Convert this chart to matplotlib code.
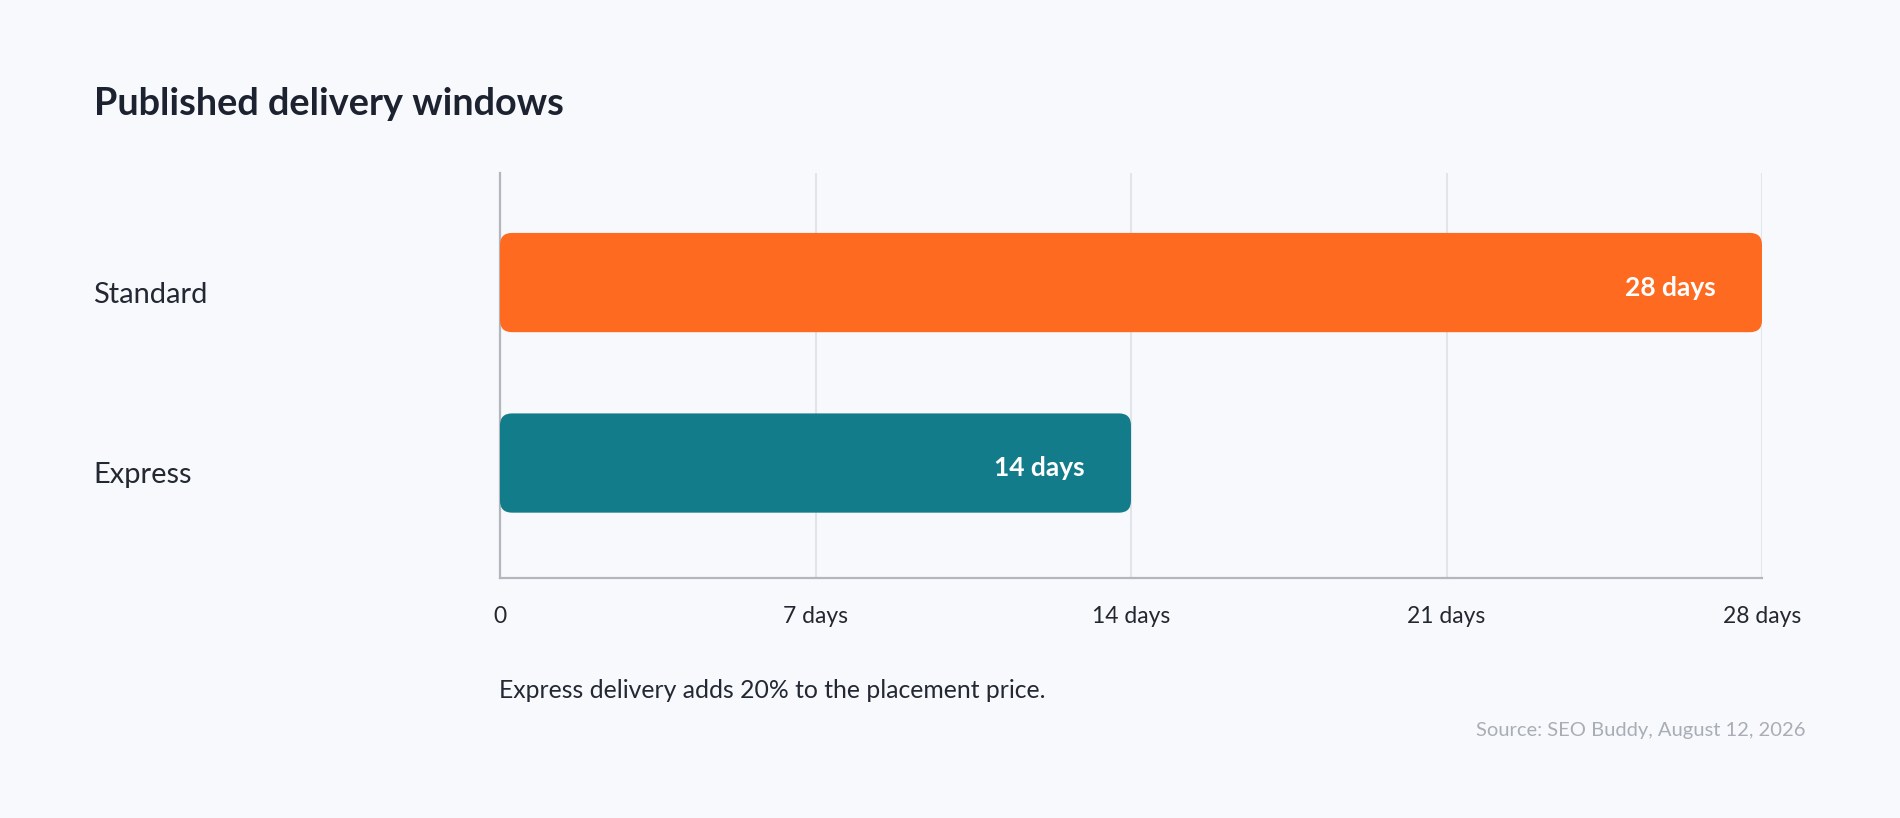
import matplotlib
matplotlib.use("Agg")
import matplotlib.pyplot as plt
from matplotlib.patches import FancyBboxPatch
from matplotlib.transforms import offset_copy, blended_transform_factory

# ---- data ----
categories = ["Standard", "Express"]
values = [28, 14]
value_labels = ["28 days", "14 days"]
bar_colors = ["#FF6A21", "#137C8A"]
xtick_values = [0, 7, 14, 21, 28]
xtick_labels = ["0", "7 days", "14 days", "21 days", "28 days"]
title = "Published delivery windows"
note = "Express delivery adds 20% to the placement price."
source = "Source: SEO Buddy, August 12, 2026"

plt.rcParams['font.family'] = ['Lato', 'DejaVu Sans']

W, H = 1900, 818
BG = "#F7F9FC"
fig = plt.figure(figsize=(W / 100, H / 100), dpi=100, facecolor=BG)
ax = fig.add_axes([500 / W, 240 / H, 1262 / W, 405 / H], facecolor=BG)

ypos = [1, 0]
bar_h = 0.55
ax.set_xlim(0, 28)
ax.set_ylim(-0.637, 1.607)

for y, v, c in zip(ypos, values, bar_colors):
    p = FancyBboxPatch((0, y - bar_h / 2), v, bar_h,
                       boxstyle="round,pad=0,rounding_size=0.266",
                       mutation_aspect=0.25, facecolor=c, edgecolor="none",
                       zorder=3)
    ax.add_patch(p)

# value labels inside bars
for y, v, lab in zip(ypos, values, value_labels):
    tr = offset_copy(ax.transData, fig=fig, x=-46, y=-13, units='dots')
    ax.text(v, y, lab, transform=tr, ha='right', va='baseline',
            fontsize=19, fontweight='bold', color='white', zorder=4)

# category labels
btr = blended_transform_factory(fig.transFigure, ax.transData)
for y, cat in zip(ypos, categories):
    tr = offset_copy(btr, fig=fig, x=0, y=-20, units='dots')
    ax.text(93 / W, y, cat, transform=tr, ha='left', va='baseline',
            fontsize=20.9, color='#232833')
ax.set_yticks([])

# x axis
ax.set_xticks(xtick_values)
ax.set_xticklabels(xtick_labels, fontsize=16.5, color='#23272f')
ax.tick_params(axis='x', length=0, pad=32.2)
for t in ax.get_xticklabels():
    t.set_va('baseline')
ax.grid(axis='x', color='#E1E4E9', linewidth=1.5, zorder=0)
ax.set_axisbelow(True)

for s in ['top', 'right']:
    ax.spines[s].set_visible(False)
for s in ['left', 'bottom']:
    ax.spines[s].set_color('#B3B6BC')
    ax.spines[s].set_linewidth(1.6)
    ax.spines[s].set_zorder(2)

fig.text(94 / W, 1 - 115 / H, title, ha='left', va='baseline',
         fontsize=27.3, fontweight='bold', color='#1D2230')
fig.text(499 / W, 1 - 697.7 / H, note, ha='left', va='baseline',
         fontsize=17.8, color='#232833')
fig.text(1805.7 / W, 1 - 736 / H, source, ha='right', va='baseline',
         fontsize=14.5, color='#A9AEB6')

fig.savefig("out.png", dpi=100, facecolor=BG)
